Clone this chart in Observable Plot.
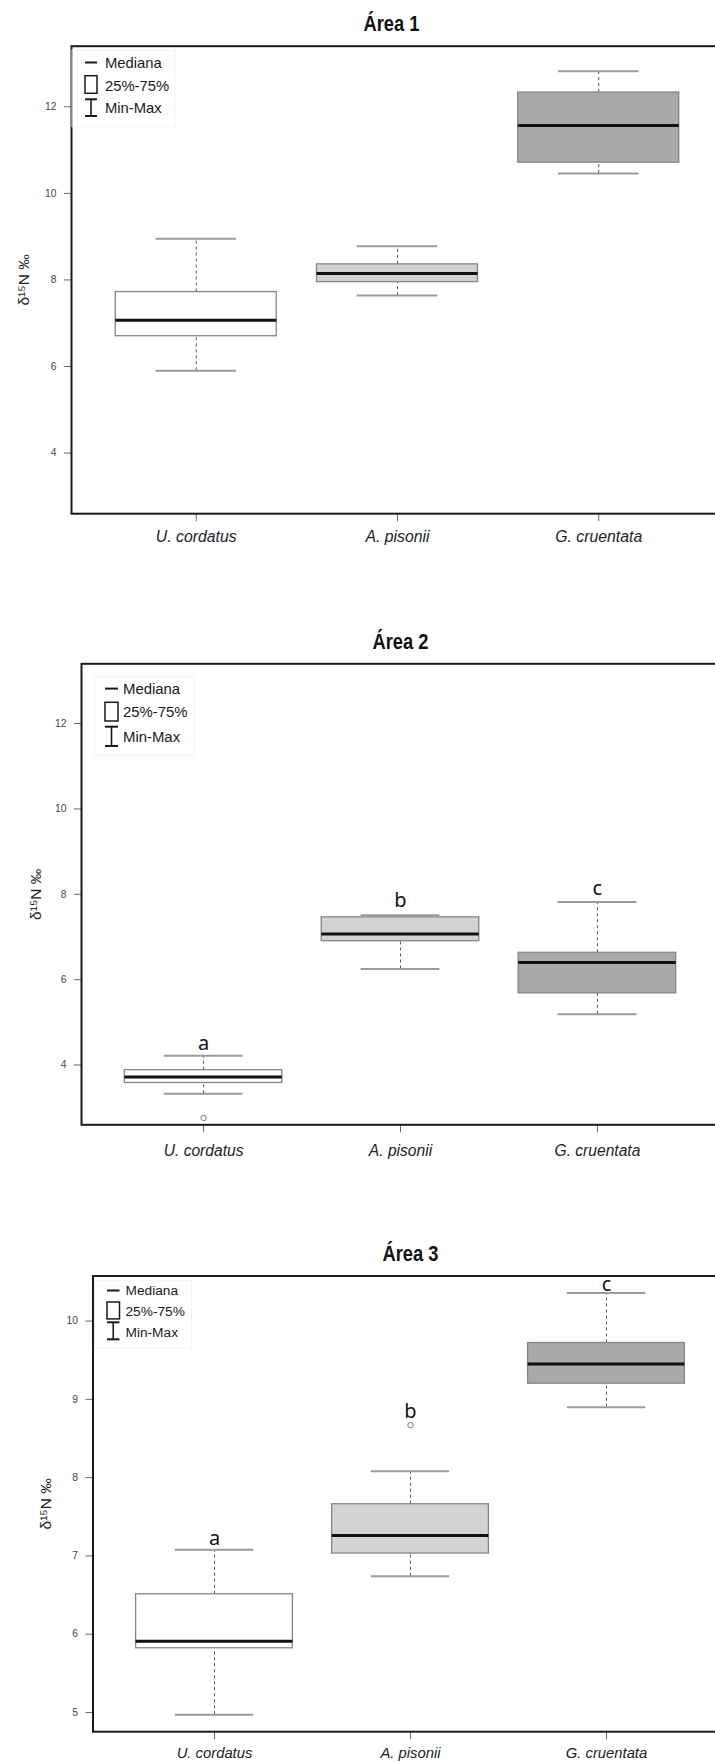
<!DOCTYPE html>
<html>
<head>
<meta charset="utf-8">
<script src="https://cdn.jsdelivr.net/npm/d3@7"></script>
<script src="https://cdn.jsdelivr.net/npm/@observablehq/plot@0.6"></script>
<style>
  html, body { margin: 0; padding: 0; background: #fff; overflow: hidden; }
  .panel { width: 715px; overflow: hidden; }
</style>
</head>
<body>
<div id="p1" class="panel"></div>
<div id="p2" class="panel"></div>
<div id="p3" class="panel"></div>
<script>
// Species on the x axis
const species = ["U. cordatus", "A. pisonii", "G. cruentata"];
const groupLetters = ["a", "b", "c"];

// δ15N summaries per area: min, 25 %, median, 75 %, max
const area1Min = [5.90, 7.64, 10.46];
const area1Q1  = [6.70, 7.95, 10.71];
const area1Med = [7.07, 8.15, 11.57];
const area1Q3  = [7.72, 8.36, 12.33];
const area1Max = [8.95, 8.78, 12.82];

const area2Min = [3.33, 6.25, 5.19];
const area2Q1  = [3.58, 6.90, 5.68];
const area2Med = [3.72, 7.07, 6.40];
const area2Q3  = [3.88, 7.46, 6.63];
const area2Max = [4.22, 7.51, 7.82];
const area2Outliers = [{sp: 0, v: 2.76}];
const area2LetterY = [4.51, 7.85, 8.14];

const area3Min = [4.97, 6.74, 8.90];
const area3Q1  = [5.82, 7.03, 9.20];
const area3Med = [5.91, 7.26, 9.45];
const area3Q3  = [6.51, 7.66, 9.72];
const area3Max = [7.08, 8.08, 10.36];
const area3Outliers = [{sp: 1, v: 8.67}];
const area3LetterY = [7.22, 8.84, 10.46];

// Shared y limits for areas 1 and 2
const ylimShared = [3, 13];
const ticksEven = [4, 6, 8, 10, 12];
const ticksArea3 = [5, 6, 7, 8, 9, 10];

const boxFills = ["#ffffff", "#d3d3d3", "#a9a9a9"];
const sans = "'Liberation Sans', Arial, Helvetica, sans-serif";

function drawLegend(svg, ml, mt, L) {
  const g = d3.select(svg).append("g")
    .attr("transform", `translate(${ml},${mt})`)
    .attr("text-anchor", "start");
  g.append("rect")
    .attr("x", L.frame[0]).attr("y", L.frame[1])
    .attr("width", L.frame[2] - L.frame[0]).attr("height", L.frame[3] - L.frame[1])
    .attr("fill", "none").attr("stroke", "#f3f3f3").attr("stroke-width", 1);
  const gx0 = L.gx, gx1 = L.gx + L.gw, gxc = (gx0 + gx1) / 2;
  // median dash
  g.append("line").attr("x1", gx0).attr("x2", gx1)
    .attr("y1", L.ys[0]).attr("y2", L.ys[0])
    .attr("stroke", "#1a1a1a").attr("stroke-width", 2);
  // quartile box
  g.append("rect").attr("x", gx0).attr("y", L.box[0])
    .attr("width", L.gw).attr("height", L.box[1] - L.box[0])
    .attr("fill", "#fff").attr("stroke", "#1a1a1a").attr("stroke-width", 1.5);
  // min-max I-beam
  g.append("line").attr("x1", gxc).attr("x2", gxc)
    .attr("y1", L.beam[0]).attr("y2", L.beam[1])
    .attr("stroke", "#1a1a1a").attr("stroke-width", 1.6);
  [L.beam[0], L.beam[1]].forEach(y => g.append("line")
    .attr("x1", gx0).attr("x2", gx1).attr("y1", y).attr("y2", y)
    .attr("stroke", "#1a1a1a").attr("stroke-width", 2));
  ["Mediana", "25%-75%", "Min-Max"].forEach((t, i) => g.append("text")
    .attr("x", L.tx).attr("y", L.ys[i]).attr("dy", "0.36em")
    .attr("text-anchor", "start")
    .attr("font-family", sans).attr("font-size", L.fs)
    .attr("fill", "#1a1a1a").text(t));
}

function panel(host, cfg) {
  const rows = species.map((s, k) => ({
    i: k + 1, s,
    min: cfg.min[k], q1: cfg.q1[k], med: cfg.med[k], q3: cfg.q3[k], max: cfg.max[k],
    fill: boxFills[k],
    letter: cfg.letterY ? groupLetters[k] : null,
    ly: cfg.letterY ? cfg.letterY[k] : null
  }));
  const outs = cfg.outliers || [];
  let lo, hi;
  if (cfg.ylim) [lo, hi] = cfg.ylim;
  else {
    lo = d3.min([...cfg.min, ...outs.map(o => o.v)]);
    hi = d3.max([...cfg.max, ...outs.map(o => o.v)]);
  }
  const pad = (hi - lo) * 0.04;

  const marks = [
    Plot.ruleX(rows, {x: "i", y1: "q3", y2: "max", stroke: "#555", strokeWidth: 1, strokeDasharray: "3,3"}),
    Plot.ruleX(rows, {x: "i", y1: "min", y2: "q1", stroke: "#555", strokeWidth: 1, strokeDasharray: "3,3"}),
    Plot.rect(rows, {x1: d => d.i - 0.4, x2: d => d.i + 0.4, y1: "q1", y2: "q3",
      fill: "fill", stroke: "#858585", strokeWidth: 1.3}),
    Plot.ruleY(rows, {y: "med", x1: d => d.i - 0.4, x2: d => d.i + 0.4, stroke: "#111", strokeWidth: 3}),
    Plot.ruleY(rows, {y: "max", x1: d => d.i - 0.2, x2: d => d.i + 0.2, stroke: "#9a9a9a", strokeWidth: 2}),
    Plot.ruleY(rows, {y: "min", x1: d => d.i - 0.2, x2: d => d.i + 0.2, stroke: "#9a9a9a", strokeWidth: 2}),
    Plot.dot(outs, {x: d => d.sp + 1, y: "v", r: 2.7, stroke: "#777", strokeWidth: 1, fill: "none"}),
    Plot.axisY({ticks: cfg.yticks, tickFormat: d => String(d), tickSize: 7, tickPadding: 8,
      fontSize: 10.3, stroke: "#666", fill: "#444", label: null}),
    Plot.axisX({ticks: [1, 2, 3], tickFormat: d => species[d - 1], tickSize: 8,
      tickPadding: cfg.xPad, fontSize: cfg.xFs, fontStyle: "italic",
      stroke: "#666", fill: "#222", label: null}),
    Plot.frame({stroke: "#1a1a1a", strokeWidth: 2}),
    Plot.text([cfg.title], {x: () => 2, frameAnchor: "top", dx: cfg.titleDx, dy: -22, lineAnchor: "middle",
      fontSize: 22, fontWeight: "bold", fill: "#111",
      fontFamily: "'Liberation Sans Narrow', 'Arial Narrow', 'Liberation Sans', Arial, sans-serif"}),
    Plot.text(["δ¹⁵N ‰"], {frameAnchor: "left", rotate: -90, dx: -cfg.labelGap,
      textAnchor: "middle", lineAnchor: "middle", fontSize: 15.5, fill: "#222"})
  ];
  if (cfg.letterY) {
    marks.push(Plot.text(rows, {x: "i", y: "ly", text: "letter", lineAnchor: "middle",
      fontSize: 20, fill: "#111", fontFamily: "'Noto Sans', 'Open Sans', sans-serif"}));
  }

  const svg = Plot.plot({
    width: cfg.width, height: cfg.height,
    marginLeft: cfg.ml, marginRight: 0, marginTop: cfg.mt, marginBottom: cfg.mb,
    style: {fontFamily: sans, maxWidth: "none", background: "#fff", overflow: "visible"},
    x: {type: "linear", domain: [0.38, 3.62]},
    y: {domain: [lo - pad, hi + pad]},
    color: {type: "identity"},
    marks
  });

  // keep the condensed title at its set width
  d3.select(svg).selectAll("text")
    .filter(function () { return this.textContent === cfg.title; })
    .attr("textLength", 56).attr("lengthAdjust", "spacingAndGlyphs");

  drawLegend(svg, cfg.ml, cfg.mt, cfg.legend);
  document.getElementById(host).appendChild(svg);
}

panel("p1", {
  title: "Área 1", titleDx: -6,
  min: area1Min, q1: area1Q1, med: area1Med, q3: area1Q3, max: area1Max,
  ylim: ylimShared, yticks: ticksEven,
  width: 723, height: 600, ml: 71, mt: 45.7, mb: 86.8,
  xFs: 15.8, xPad: 9.4, labelGap: 47.5,
  legend: {frame: [1, 4.3, 104, 81], gx: 14, gw: 12, tx: 34,
    ys: [16.8, 39.8, 62], box: [30, 47.6], beam: [53.6, 70.3], fs: 14.8}
});

panel("p2", {
  title: "Área 2", titleDx: 0,
  min: area2Min, q1: area2Q1, med: area2Med, q3: area2Q3, max: area2Max,
  outliers: area2Outliers, letterY: area2LetterY,
  ylim: ylimShared, yticks: ticksEven,
  width: 719, height: 620, ml: 81, mt: 63.3, mb: 95.7,
  xFs: 15.6, xPad: 12.2, labelGap: 45,
  legend: {frame: [13.6, 13.4, 113, 91.7], gx: 24, gw: 13, tx: 42,
    ys: [25.3, 48.4, 73.2], box: [39, 57.7], beam: [63.4, 82.7], fs: 14.9}
});

panel("p3", {
  title: "Área 3", titleDx: 0,
  min: area3Min, q1: area3Q1, med: area3Med, q3: area3Q3, max: area3Max,
  outliers: area3Outliers, letterY: area3LetterY,
  ylim: null, yticks: ticksArea3,
  width: 727.5, height: 542, ml: 92.5, mt: 55.5, mb: 30.8,
  xFs: 14.8, xPad: 8.2, labelGap: 47,
  legend: {frame: [2, 4.7, 99, 72.6], gx: 14.5, gw: 12.5, tx: 33,
    ys: [15, 36, 56.3], box: [26.5, 43.4], beam: [46.8, 63.8], fs: 13.7}
});
</script>
</body>
</html>
